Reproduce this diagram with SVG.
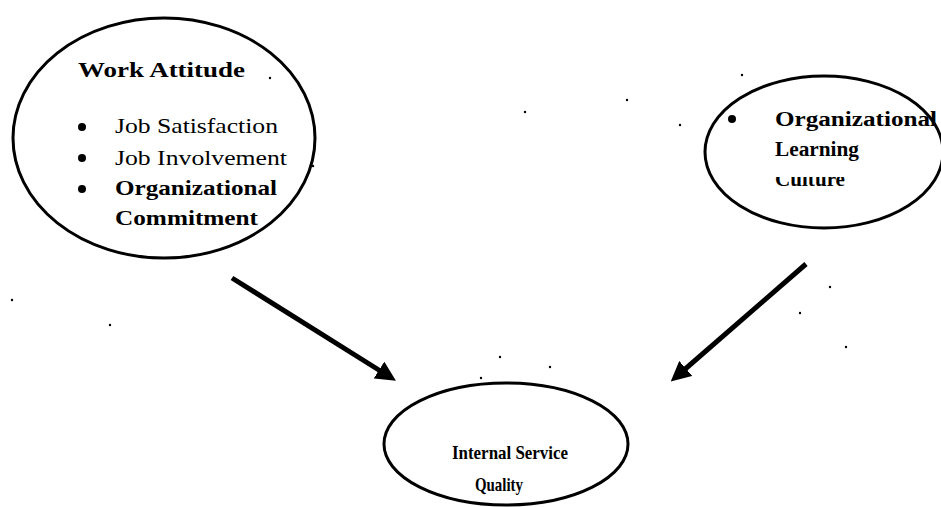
<svg xmlns="http://www.w3.org/2000/svg" width="941" height="507" viewBox="0 0 941 507">
  <style>
    .node { fill: none; stroke: #000; stroke-width: 3; }
    .t { font-family: "Liberation Serif", "Times New Roman", serif; fill: #000; }
    .b { font-weight: bold; }
    .bullet { fill: #000; }
    .conn { stroke: #000; stroke-width: 5; fill: none; marker-end: url(#arrow); }
    .speck { fill: #000; }
  </style>
  <defs>
    <marker id="arrow" markerWidth="4" markerHeight="4" refX="2.6" refY="2" orient="auto" markerUnits="strokeWidth">
      <path d="M0,0 L4,2 L0,4 Z" fill="#000"/>
    </marker>
    <clipPath id="cultureClip">
      <rect x="760" y="177" width="181" height="20"/>
    </clipPath>
  </defs>
  <rect width="941" height="507" fill="#fff"/>

  <g id="work-attitude">
    <ellipse class="node" cx="164" cy="138" rx="151" ry="120"/>
    <text class="t b" x="78" y="77" font-size="21" textLength="167" lengthAdjust="spacingAndGlyphs">Work Attitude</text>
    <circle class="bullet" cx="82" cy="127" r="4"/>
    <text class="t" x="115" y="133" font-size="21" textLength="163" lengthAdjust="spacingAndGlyphs">Job Satisfaction</text>
    <circle class="bullet" cx="82" cy="158" r="4"/>
    <text class="t" x="115" y="165" font-size="21" textLength="172" lengthAdjust="spacingAndGlyphs">Job Involvement</text>
    <circle class="bullet" cx="82" cy="189" r="4"/>
    <text class="t b" x="115" y="195" font-size="21" textLength="162" lengthAdjust="spacingAndGlyphs">Organizational</text>
    <text class="t b" x="115" y="225" font-size="21" textLength="143" lengthAdjust="spacingAndGlyphs">Commitment</text>
  </g>

  <g id="organizational-learning-culture">
    <ellipse class="node" cx="824" cy="152" rx="119" ry="76"/>
    <circle class="bullet" cx="732" cy="119" r="4"/>
    <text class="t b" x="775" y="126" font-size="20" textLength="162" lengthAdjust="spacingAndGlyphs">Organizational</text>
    <text class="t b" x="775" y="156" font-size="20" textLength="84" lengthAdjust="spacingAndGlyphs">Learning</text>
    <text class="t b" x="775" y="186" font-size="20" textLength="70" lengthAdjust="spacingAndGlyphs" clip-path="url(#cultureClip)">Culture</text>
  </g>

  <g id="internal-service-quality">
    <ellipse class="node" cx="506" cy="444" rx="122" ry="61"/>
    <text class="t b" x="452" y="459" font-size="19" textLength="116" lengthAdjust="spacingAndGlyphs">Internal Service</text>
    <text class="t b" x="475" y="491" font-size="19" textLength="48" lengthAdjust="spacingAndGlyphs">Quality</text>
  </g>

  <g id="connectors">
    <line class="conn" x1="232" y1="278" x2="390" y2="377"/>
    <line class="conn" x1="806" y1="264" x2="676" y2="377"/>
  </g>

  <g id="specks">
    <circle class="speck" cx="270" cy="78" r="1.2"/>
    <circle class="speck" cx="313" cy="166" r="1.2"/>
    <circle class="speck" cx="12" cy="300" r="1.2"/>
    <circle class="speck" cx="110" cy="325" r="1.2"/>
    <circle class="speck" cx="525" cy="112" r="1.2"/>
    <circle class="speck" cx="627" cy="100" r="1.2"/>
    <circle class="speck" cx="680" cy="125" r="1.2"/>
    <circle class="speck" cx="742" cy="75" r="1.2"/>
    <circle class="speck" cx="830" cy="287" r="1.2"/>
    <circle class="speck" cx="800" cy="313" r="1.2"/>
    <circle class="speck" cx="846" cy="347" r="1.2"/>
    <circle class="speck" cx="500" cy="357" r="1.2"/>
    <circle class="speck" cx="550" cy="367" r="1.2"/>
    <circle class="speck" cx="481" cy="378" r="1.2"/>
  </g>
</svg>
